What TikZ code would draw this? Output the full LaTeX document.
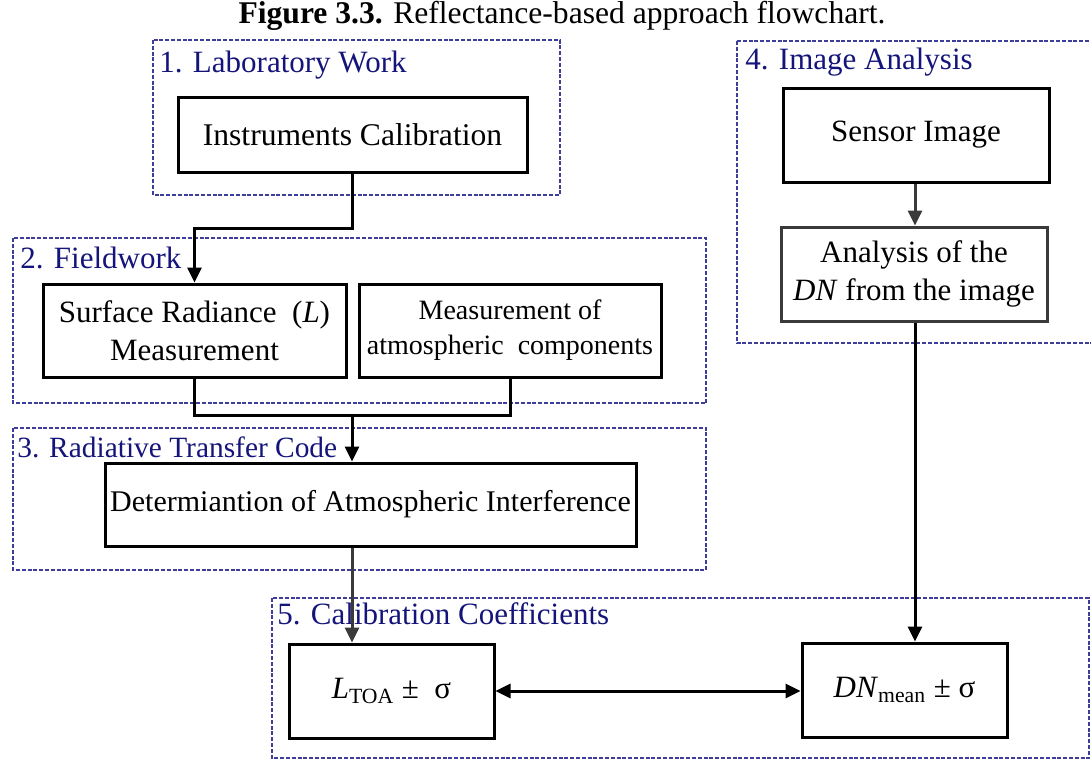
\documentclass[tikz,border=0pt]{standalone}
\usepackage{fontspec}
\setmainfont{Liberation Serif}
\usetikzlibrary{arrows.meta}
\definecolor{lblblue}{HTML}{14147A}
\definecolor{dashblue}{HTML}{3E3E9A}
\definecolor{linegray}{HTML}{3A3A3A}
\tikzstyle{stepbox} = [rectangle, draw=black, line width=1.5pt, align=center, inner sep=2pt, font=\fontsize{15.5}{19}\selectfont]
\tikzstyle{group} = [draw=dashblue, line width=1.2pt, dash pattern=on 2pt off 0.9pt]
\tikzstyle{grouplbl} = [anchor=base west, inner sep=0pt, text=lblblue, font=\fontsize{15.5}{19}\selectfont]
\tikzstyle{arr} = [line width=1.5pt, -{Triangle[length=7.5pt,width=7pt]}]
\tikzset{bsize/.style 2 args={minimum width=#1pt, minimum height=#2pt}}

\begin{document}
\begin{tikzpicture}[x=0.5pt,y=-0.5pt]
				\useasboundingbox (0,0) rectangle (1091,760);
				\node [anchor=base, inner sep=0pt, font=\fontsize{15.8}{19}\selectfont] (title) at (562,24) {\textbf{Figure 3.3.} Reflectance-based approach flowchart.};
				\draw [group] (153,40) rectangle (560,195);
				\draw [group] (13,238) rectangle (706,403);
				\draw [group] (13,428) rectangle (706,570);
				\draw [group] (737,41) -- (1095,41) (737,41) -- (737,343) -- (1095,343);
				\draw [group] (272,598) rectangle (1089,758);
				\node [grouplbl] (lbl1) at (159,72) {1. Laboratory Work};
				\node [grouplbl] (lbl2) at (20,268) {2. Fieldwork};
				\node [grouplbl, font=\fontsize{14.7}{19}\selectfont] (lbl3) at (17,457) {3. Radiative Transfer Code};
				\node [grouplbl] (lbl4) at (745,69) {4. Image Analysis};
				\node [grouplbl] (lbl5) at (277,624) {5. Calibration Coefficients};
				\node [stepbox, bsize={174.5}{37.5}, font=\fontsize{15.8}{19}\selectfont] (cal) at (352.5,134.5) {Instruments Calibration};
				\node [stepbox, bsize={151.5}{46.5}] (surf) at (194.5,330.5) {Surface Radiance\ \ (\textit{L})\\Measurement};
				\node [stepbox, bsize={151}{46.5}, font=\fontsize{14}{17.5}\selectfont] (atm) at (510,330.5) {Measurement of\\atmospheric\ \ components};
				\node [stepbox, bsize={265.5}{41.5}, font=\fontsize{15}{19}\selectfont] (det) at (370.5,504.5) {Determiantion of Atmospheric Interference};
				\node [stepbox, bsize={133}{47}] (sensor) at (916,135) {Sensor Image};
				\node [stepbox, bsize={133}{47}, draw=linegray] (dnan) at (914,274) {Analysis of the\\\textit{DN} from the image};
				\node [stepbox, bsize={102.5}{47}] (ltoa) at (391.5,691) {\textit{L}\textsubscript{TOA} ±\ \ σ};
				\node [stepbox, bsize={102.5}{47}] (dnm) at (904.5,690) {\textit{DN}\textsubscript{mean} ± σ};
				\coordinate (bend) at (352,228);
				\coordinate (join) at (352,415);
				\draw [arr] (cal.south -| bend) -- (bend) -| (surf.north);
				\draw [line width=1.5pt] (surf.south) |- (join) -| (atm.south);
				\draw [arr] (join) -- (join |- det.north);
				\draw [arr, draw=linegray] (join |- det.south) -- (join |- ltoa.north);
				\draw [arr, draw=linegray] (sensor.south -| 915,0) -- (dnan.north -| 915,0);
				\draw [arr] (dnan.south -| 915,0) -- (dnm.north -| 915,0);
				\draw [line width=1.5pt, {Triangle[length=7.5pt,width=7pt]}-{Triangle[length=7.5pt,width=7pt]}] (ltoa.east) -- (ltoa.east -| dnm.west);
\end{tikzpicture}
\end{document}
